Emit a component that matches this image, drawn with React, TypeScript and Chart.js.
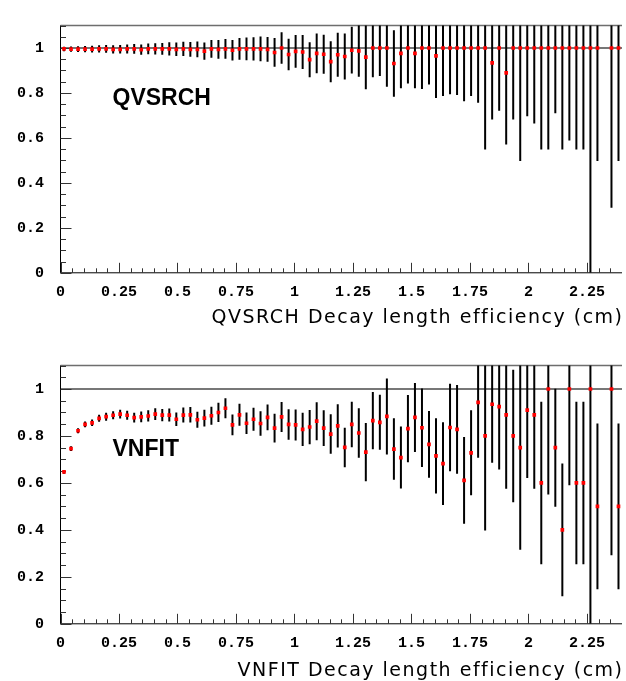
import React, { useEffect, useRef } from 'react';
import { Chart, registerables } from 'chart.js';

Chart.register(...registerables);

// ---- data (80 bins of 0.03 cm from 0 to 2.4 cm) ----
const binWidth = 0.03;
const xMin = 0;
const xMax = 2.4;
const yMin = 0;
const yMax = 1.1;

const xTicks = [0, 0.25, 0.5, 0.75, 1, 1.25, 1.5, 1.75, 2, 2.25];
const xTickLabels = ['0', '0.25', '0.5', '0.75', '1', '1.25', '1.5', '1.75', '2', '2.25'];
const yTicks = [0, 0.2, 0.4, 0.6, 0.8, 1];
const yTickLabels = ['0', '0.2', '0.4', '0.6', '0.8', '1'];

const qvsrchEff: (number | null)[] = [
  0.996, 0.995, 0.995, 0.995, 0.995, 0.996, 0.996, 0.994, 0.994, 0.996,
  0.996, 0.993, 0.996, 0.996, 0.996, 0.996, 0.994, 0.996, 0.994, 0.994,
  0.986, 0.996, 0.994, 0.996, 0.990, 0.996, 0.996, 0.996, 0.996, 0.994,
  0.980, 1.0, 0.971, 0.985, 0.982, 0.948, 0.976, 0.972, 0.939, 0.970,
  0.962, 0.990, 0.987, 0.959, 1, 1, 1, 0.931, 0.976, 1,
  0.976, 1, 1, 0.965, 1, 1, 1, 1, 1, 1,
  1, 0.934, 1, 0.889, 1, 1, 1, 1, 1, 1,
  1, 1, 1, 1, 1, 1, 1, null, 1, 1,
];
const qvsrchErr: (number | null)[] = [
  0.010, 0.012, 0.013, 0.014, 0.015, 0.016, 0.017, 0.018, 0.019, 0.020,
  0.022, 0.023, 0.024, 0.025, 0.026, 0.029, 0.030, 0.032, 0.033, 0.035,
  0.038, 0.040, 0.042, 0.044, 0.046, 0.048, 0.051, 0.052, 0.055, 0.055,
  0.064, 0.070, 0.070, 0.073, 0.076, 0.078, 0.088, 0.087, 0.091, 0.098,
  0.102, 0.104, 0.115, 0.143, 0.130, 0.125, 0.172, 0.148, 0.155, 0.158,
  0.155, 0.183, 0.162, 0.188, 0.214, 0.206, 0.209, 0.237, 0.214, 0.244,
  0.452, 0.252, 0.279, 0.318, 0.318, 0.503, 0.304, 0.336, 0.452, 0.452,
  0.290, 0.452, 0.412, 0.452, 0.452, 1.0, 0.503, null, 0.711, 0.503,
];

const vnfitEff: (number | null)[] = [
  0.647, 0.746, 0.822, 0.849, 0.856, 0.875, 0.882, 0.888, 0.893, 0.888,
  0.878, 0.881, 0.885, 0.893, 0.889, 0.889, 0.871, 0.889, 0.890, 0.869,
  0.876, 0.886, 0.900, 0.918, 0.847, 0.890, 0.854, 0.871, 0.853, 0.879,
  0.833, 0.881, 0.849, 0.847, 0.828, 0.838, 0.863, 0.833, 0.808, 0.843,
  0.751, 0.849, 0.8125, 0.731, 0.865, 0.858, 0.883, 0.744, 0.708, 0.831,
  0.879, 0.835, 0.764, 0.715, 0.682, 0.836, 0.828, 0.611, 0.728, 0.943,
  0.8, 0.935, 0.925, 0.890, 0.8, 0.75, 0.910, 0.890, 0.6, 1.0,
  0.75, 0.4, 1.0, 0.6, 0.6, 1.0, 0.5, null, 1.0, 0.5,
];
const vnfitErr: (number | null)[] = [
  0.008, 0.010, 0.011, 0.0125, 0.014, 0.015, 0.017, 0.017, 0.019, 0.019,
  0.021, 0.023, 0.024, 0.025, 0.026, 0.028, 0.029, 0.032, 0.033, 0.034,
  0.036, 0.038, 0.041, 0.043, 0.044, 0.047, 0.046, 0.049, 0.052, 0.055,
  0.061, 0.064, 0.065, 0.066, 0.071, 0.073, 0.081, 0.076, 0.084, 0.092,
  0.084, 0.097, 0.105, 0.124, 0.122, 0.117, 0.162, 0.131, 0.132, 0.143,
  0.147, 0.167, 0.142, 0.160, 0.176, 0.186, 0.189, 0.185, 0.181, 0.236,
  0.403, 0.249, 0.268, 0.315, 0.282, 0.435, 0.289, 0.315, 0.346, 0.449,
  0.251, 0.283, 0.41, 0.346, 0.346, 1.0, 0.353, null, 0.708, 0.353,
];

const binCenters = qvsrchEff.map((_, i) => +(xMin + binWidth * (i + 0.5)).toFixed(3));

type PanelProps = {
  eff: (number | null)[];
  err: (number | null)[];
  label: string;
  title: string;
  height: number;
  padTop: number;
  areaBottom: number;
  titleY: number;
  labelY: number;
};

function makePlugin(p: PanelProps) {
  return {
    id: 'frameBars',
    beforeDatasetsDraw(chart: any) {
      const { ctx, chartArea, scales } = chart;
      const { left, right, top, bottom } = chartArea;
      const xs = scales.x;
      const ys = scales.y;
      ctx.save();
      // top frame
      ctx.strokeStyle = '#6e6e6e';
      ctx.lineWidth = 1.5;
      ctx.beginPath();
      ctx.moveTo(left, top);
      ctx.lineTo(right, top);
      ctx.stroke();
      // reference line at efficiency 1
      ctx.strokeStyle = '#4a4a4a';
      const y1 = ys.getPixelForValue(1);
      ctx.beginPath();
      ctx.moveTo(left, y1);
      ctx.lineTo(right, y1);
      ctx.stroke();
      // error bars
      ctx.beginPath();
      ctx.rect(left, top, right - left, bottom - top);
      ctx.clip();
      ctx.strokeStyle = '#000';
      ctx.lineWidth = 2;
      ctx.beginPath();
      p.eff.forEach((v, i) => {
        const e = p.err[i];
        if (v == null || e == null) return;
        const px = xs.getPixelForValue(binCenters[i]);
        ctx.moveTo(px, ys.getPixelForValue(v + e));
        ctx.lineTo(px, ys.getPixelForValue(v - e));
      });
      ctx.stroke();
      ctx.restore();

      // axes and ticks
      ctx.save();
      ctx.strokeStyle = '#000';
      ctx.lineWidth = 1;
      ctx.beginPath();
      ctx.moveTo(left, top);
      ctx.lineTo(left, bottom);
      ctx.lineTo(right, bottom);
      ctx.stroke();
      ctx.strokeStyle = '#333';
      ctx.beginPath();
      for (let k = 0; k <= 22; k++) {
        const v = k * 0.05;
        const py = Math.round(ys.getPixelForValue(v)) + 0.5;
        const len = k % 4 === 0 && v <= 1.0001 ? 11 : 5.5;
        ctx.moveTo(left, py);
        ctx.lineTo(left + len, py);
      }
      for (let k = 0; k <= 47; k++) {
        const v = k * 0.05;
        const px = Math.round(xs.getPixelForValue(v)) + 0.5;
        const len = k % 5 === 0 ? 10 : 4.5;
        ctx.moveTo(px, bottom);
        ctx.lineTo(px, bottom - len);
      }
      ctx.stroke();
      ctx.restore();
    },
    afterDraw(chart: any) {
      const { ctx, chartArea } = chart;
      ctx.save();
      ctx.fillStyle = '#000';
      ctx.font = 'bold 23px "Liberation Sans", Arial, sans-serif';
      ctx.textAlign = 'left';
      ctx.textBaseline = 'alphabetic';
      ctx.fillText(p.label, 112.5, p.labelY);
      ctx.font = '19px "DejaVu Sans", sans-serif';
      (ctx as any).letterSpacing = '1.5px';
      ctx.textAlign = 'right';
      ctx.textBaseline = 'middle';
      ctx.fillText(p.title, chartArea.right + 1.5, p.titleY);
      ctx.restore();
    },
  };
}

function Panel(p: PanelProps) {
  const ref = useRef<HTMLCanvasElement | null>(null);
  useEffect(() => {
    if (!ref.current) return;
    const points = p.eff
      .map((v, i) => (v == null ? null : { x: binCenters[i], y: v }))
      .filter((d) => d !== null);
    const chart = new Chart(ref.current, {
      type: 'scatter',
      data: {
        datasets: [
          {
            data: points as any,
            pointStyle: 'rect',
            pointRadius: 2.6,
            pointBorderWidth: 0,
            pointBackgroundColor: '#ff0000',
            pointBorderColor: '#ff0000',
            showLine: false,
          },
        ],
      },
      options: {
        responsive: false,
        animation: false,
        devicePixelRatio: 1,
        layout: { padding: { top: p.padTop, left: 0, right: 0, bottom: 0 } },
        plugins: { legend: { display: false }, tooltip: { enabled: false } },
        scales: {
          x: {
            type: 'linear',
            min: xMin,
            max: xMax,
            grid: { display: false, drawTicks: false },
            border: { display: false },
            afterBuildTicks: (s: any) => {
              s.ticks = xTicks.map((v) => ({ value: v }));
            },
            afterFit: (s: any) => {
              s.height = p.height - p.areaBottom;
            },
            ticks: {
              autoSkip: false,
              maxRotation: 0,
              padding: 10,
              color: '#000',
              font: { family: '"Liberation Mono", "DejaVu Sans Mono", monospace', size: 15, weight: 'bold' },
              callback: (_v: any, i: number) => xTickLabels[i],
            },
          },
          y: {
            type: 'linear',
            min: yMin,
            max: yMax,
            grid: { display: false, drawTicks: false },
            border: { display: false },
            afterBuildTicks: (s: any) => {
              s.ticks = yTicks.map((v) => ({ value: v }));
            },
            afterFit: (s: any) => {
              s.width = 60.5;
            },
            ticks: {
              autoSkip: false,
              padding: 16.5,
              color: '#000',
              font: { family: '"Liberation Mono", "DejaVu Sans Mono", monospace', size: 15, weight: 'bold' },
              callback: (_v: any, i: number) => yTickLabels[i],
            },
          },
        },
      },
      plugins: [makePlugin(p)],
    } as any);
    return () => chart.destroy();
  }, []);
  return <canvas ref={ref} width={626} height={p.height} style={{ display: 'block' }} />;
}

export default function App() {
  useEffect(() => {
    document.body.style.margin = '0';
  }, []);
  return (
    <div style={{ width: 626, background: '#fff' }}>
      <Panel
        eff={qvsrchEff}
        err={qvsrchErr}
        label="QVSRCH"
        title="QVSRCH Decay length efficiency (cm)"
        height={340}
        padTop={8.5}
        areaBottom={272.8}
        titleY={317.7}
        labelY={105}
      />
      <Panel
        eff={vnfitEff}
        err={vnfitErr}
        label="VNFIT"
        title="VNFIT Decay length efficiency (cm)"
        height={341}
        padTop={20}
        areaBottom={283.8}
        titleY={330.7}
        labelY={116}
      />
    </div>
  );
}
